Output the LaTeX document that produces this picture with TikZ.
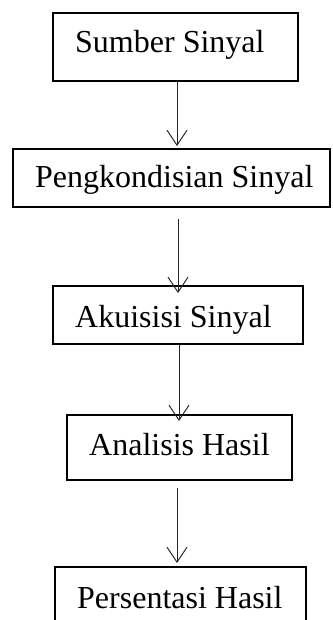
\documentclass[tikz,border=0pt]{standalone}
\usepackage{fontspec}
\setmainfont{Liberation Serif}
\usetikzlibrary{arrows.meta}
\begin{document}
\begin{tikzpicture}[x=1pt,y=-1pt,
  stagebox/.style={draw=black, line width=1.8pt, inner sep=0pt, minimum width=#1},
  caption/.style={anchor=base west, inner sep=0pt, font=\fontsize{32}{38}\selectfont},
  flow/.style={draw=black!85, line width=1pt, -{Straight Barb[length=15pt,width=20pt,line width=1pt]}}]
  \useasboundingbox (0,0) rectangle (332,620);
  % boxes of the chain
  \node[stagebox=245pt, minimum height=68pt] (b1) at (175.5,47) {};
  \node[stagebox=317pt, minimum height=58pt] (b2) at (171.5,178) {};
  \node[stagebox=250pt, minimum height=58pt] (b3) at (178,315) {};
  \node[stagebox=225pt, minimum height=65pt] (b4) at (179.5,447.5) {};
  \node[stagebox=251pt, minimum height=60pt] (b5) at (180.5,597) {};
  % labels
  \node[caption] (t1) at (75,53) {Sumber Sinyal};
  \node[caption] (t2) at (35,188) {Pengkondisian Sinyal};
  \node[caption] (t3) at (75,327) {Akuisisi Sinyal};
  \node[caption] (t4) at (89,455) {Analisis Hasil};
  \node[caption] (t5) at (77,608) {Persentasi Hasil};
  % connectors
  \draw[flow, shorten >=2pt] ([xshift=1.5pt]b1.south) -- ([xshift=1.5pt]b1.south |- b2.north);
  \draw[flow, shorten <=11pt, shorten >=-8pt] ([xshift=6.5pt]b2.south) -- ([xshift=6.5pt]b2.south |- b3.north);
  \draw[flow, shorten >=-7pt] ([xshift=1pt]b3.south) -- ([xshift=1pt]b3.south |- b4.north);
  \draw[flow, shorten <=7pt, shorten >=3pt] ([xshift=-2.5pt]b4.south) -- ([xshift=-2.5pt]b4.south |- b5.north);
\end{tikzpicture}
\end{document}
